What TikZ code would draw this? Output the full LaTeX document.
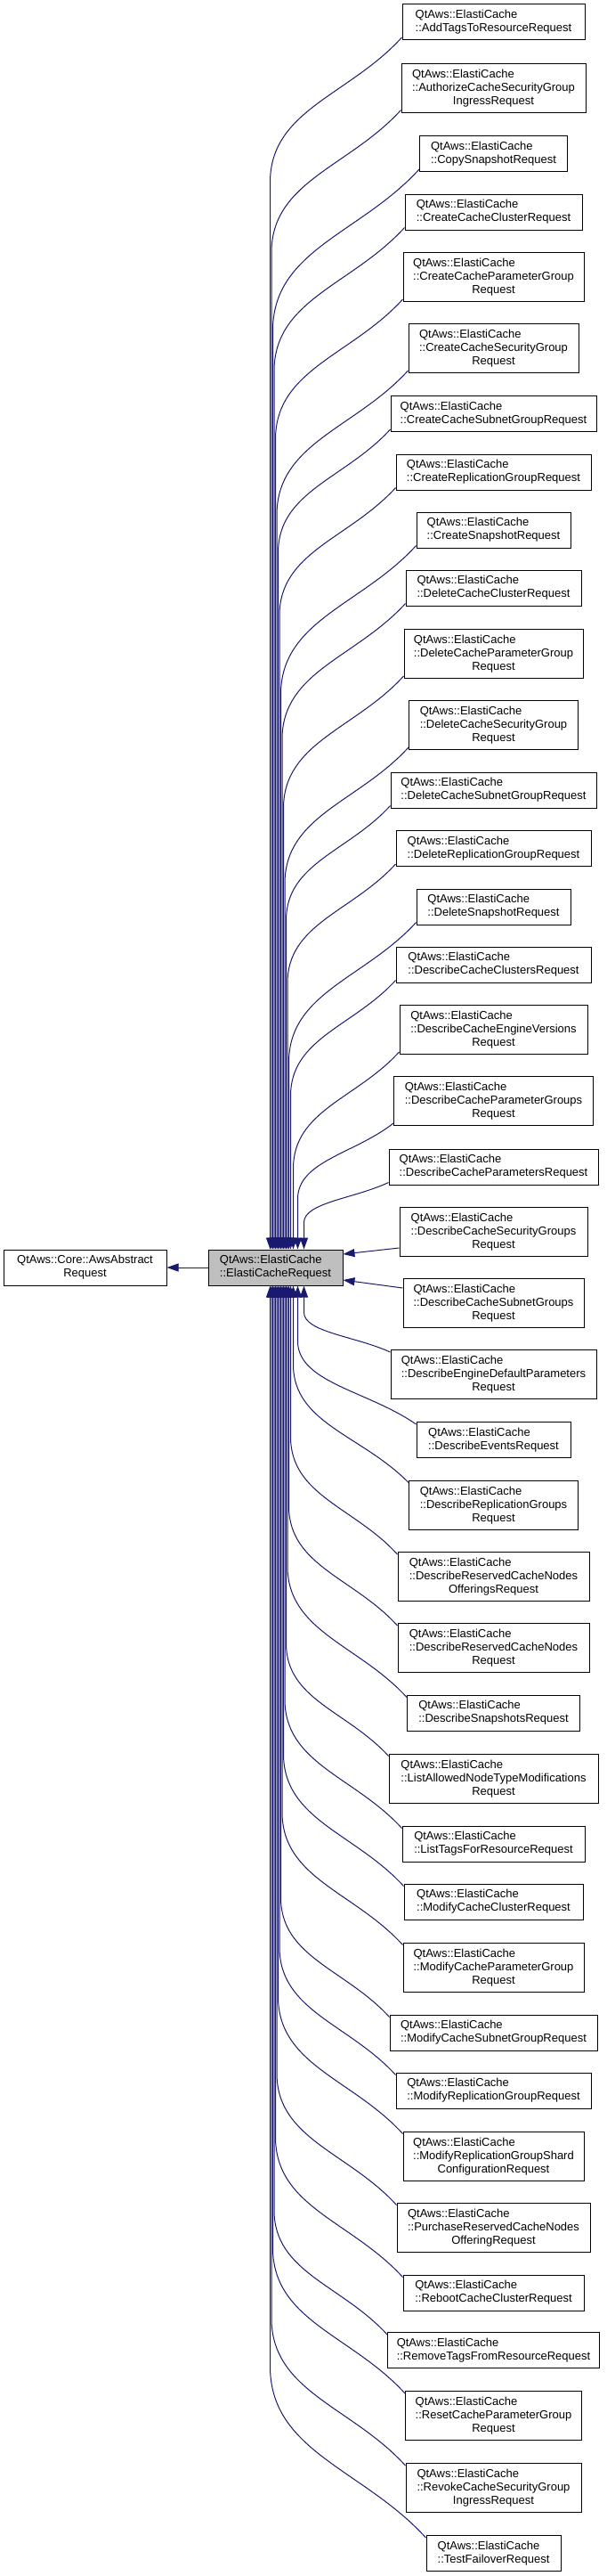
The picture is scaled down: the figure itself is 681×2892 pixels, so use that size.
\documentclass[tikz,border=0pt]{standalone}
\usepackage{fontspec}
\setmainfont{Liberation Sans}
\usetikzlibrary{arrows.meta,calc}
\definecolor{edgeblue}{HTML}{191970}
\definecolor{basegray}{HTML}{BFBFBF}
\newcommand{\twoline}[2]{\begin{tabular}[b]{@{}l@{}}#1\\#2\end{tabular}}
\newcommand{\ec}[1]{\twoline{QtAws::ElastiCache}{::#1}}
\tikzset{
  cls/.style={draw=black,line width=1pt,fill=white,align=center,
              font=\fontsize{13}{15}\selectfont,inner sep=1pt,
              minimum height=40pt},
  clsx/.style={cls,minimum height=55pt},
  basecls/.style={cls,fill=basegray},
  inh/.style={-{Triangle[length=13pt,width=9pt]},draw=edgeblue,line width=1pt},
}

\begin{document}
\begin{tikzpicture}[x=1pt,y=1pt]
\path[use as bounding box,fill=white] (0,0) rectangle (681,-2892);

%% ---------- base classes ----------
\node[basecls,minimum width=151pt] (base) at (309.5,-1423)
  {\ec{ElastiCacheRequest}};
\node[cls,minimum width=183pt] (aws) at (95.5,-1423)
  {QtAws::Core::AwsAbstract\\Request};
\draw[inh] (base) -- (aws);

%% ---------- derived requests ----------
\node[cls,minimum width=205pt]  (addtags)    at (554.5,-24.5)  {\ec{AddTagsToResourceRequest}};
\node[clsx,minimum width=207pt] (authsec)    at (554.5,-98.5)  {\ec{AuthorizeCacheSecurityGroup}\\IngressRequest};
\node[cls,minimum width=166pt]  (copysnap)   at (554.5,-172.5) {\ec{CopySnapshotRequest}};
\node[cls,minimum width=199pt]  (crcluster)  at (554.5,-238)   {\ec{CreateCacheClusterRequest}};
\node[clsx,minimum width=203pt] (crparam)    at (554.5,-311)   {\ec{CreateCacheParameterGroup}\\Request};
\node[clsx,minimum width=191pt] (crsec)      at (554.5,-391)   {\ec{CreateCacheSecurityGroup}\\Request};
\node[cls,minimum width=231pt]  (crsubnet)   at (554.5,-464.5) {\ec{CreateCacheSubnetGroupRequest}};
\node[cls,minimum width=219pt]  (crrepl)     at (554.5,-530)   {\ec{CreateReplicationGroupRequest}};
\node[cls,minimum width=173pt]  (crsnap)     at (554.5,-595)   {\ec{CreateSnapshotRequest}};
\node[cls,minimum width=197pt]  (delcluster) at (554.5,-660)   {\ec{DeleteCacheClusterRequest}};
\node[clsx,minimum width=201pt] (delparam)   at (554.5,-734)   {\ec{DeleteCacheParameterGroup}\\Request};
\node[clsx,minimum width=190pt] (delsec)     at (554.5,-814)   {\ec{DeleteCacheSecurityGroup}\\Request};
\node[cls,minimum width=231pt]  (delsubnet)  at (554.5,-887)   {\ec{DeleteCacheSubnetGroupRequest}};
\node[cls,minimum width=219pt]  (delrepl)    at (554.5,-952.5) {\ec{DeleteReplicationGroupRequest}};
\node[cls,minimum width=173pt]  (delsnap)    at (554.5,-1018)  {\ec{DeleteSnapshotRequest}};
\node[cls,minimum width=219pt]  (dsclusters) at (554.5,-1083)  {\ec{DescribeCacheClustersRequest}};
\node[clsx,minimum width=211pt] (dsengine)   at (554.5,-1156)  {\ec{DescribeCacheEngineVersions}\\Request};
\node[clsx,minimum width=224pt] (dsparamgrp) at (554.5,-1236)  {\ec{DescribeCacheParameterGroups}\\Request};
\node[cls,minimum width=235pt]  (dsparams)   at (554.5,-1310)  {\ec{DescribeCacheParametersRequest}};
\node[clsx,minimum width=211pt] (dssec)      at (554.5,-1383)  {\ec{DescribeCacheSecurityGroups}\\Request};
\node[clsx,minimum width=203pt] (dssubnet)   at (554.5,-1463)  {\ec{DescribeCacheSubnetGroups}\\Request};
\node[clsx,minimum width=231pt] (dsengdef)   at (554.5,-1543)  {\ec{DescribeEngineDefaultParameters}\\Request};
\node[cls,minimum width=173pt]  (dsevents)   at (554.5,-1616.5){\ec{DescribeEventsRequest}};
\node[clsx,minimum width=190pt] (dsrepl)     at (554.5,-1689.5){\ec{DescribeReplicationGroups}\\Request};
\node[clsx,minimum width=215pt] (dsresoff)   at (554.5,-1770)  {\ec{DescribeReservedCacheNodes}\\OfferingsRequest};
\node[clsx,minimum width=215pt] (dsres)      at (554.5,-1850)  {\ec{DescribeReservedCacheNodes}\\Request};
\node[cls,minimum width=194pt]  (dssnaps)    at (554.5,-1923)  {\ec{DescribeSnapshotsRequest}};
\node[clsx,minimum width=235pt] (listmods)   at (554.5,-1996.5){\ec{ListAllowedNodeTypeModifications}\\Request};
\node[cls,minimum width=205pt]  (listtags)   at (554.5,-2070)  {\ec{ListTagsForResourceRequest}};
\node[cls,minimum width=201pt]  (modcluster) at (554.5,-2135)  {\ec{ModifyCacheClusterRequest}};
\node[clsx,minimum width=203pt] (modparam)   at (554.5,-2208.5){\ec{ModifyCacheParameterGroup}\\Request};
\node[cls,minimum width=233pt]  (modsubnet)  at (554.5,-2282)  {\ec{ModifyCacheSubnetGroupRequest}};
\node[cls,minimum width=219pt]  (modrepl)    at (554.5,-2347)  {\ec{ModifyReplicationGroupRequest}};
\node[clsx,minimum width=203pt] (modshard)   at (554.5,-2420.5){\ec{ModifyReplicationGroupShard}\\ConfigurationRequest};
\node[clsx,minimum width=217pt] (purchase)   at (554.5,-2500.5){\ec{PurchaseReservedCacheNodes}\\OfferingRequest};
\node[cls,minimum width=203pt]  (reboot)     at (554.5,-2574)  {\ec{RebootCacheClusterRequest}};
\node[cls,minimum width=238pt]  (rmtags)     at (554.5,-2638.5){\ec{RemoveTagsFromResourceRequest}};
\node[clsx,minimum width=198pt] (resetparam) at (554.5,-2712)  {\ec{ResetCacheParameterGroup}\\Request};
\node[clsx,minimum width=197pt] (revoke)     at (554.5,-2793)  {\ec{RevokeCacheSecurityGroup}\\IngressRequest};
\node[cls,minimum width=151pt]  (failover)   at (554.5,-2866.5){\ec{TestFailoverRequest}};

%% inheritance edges from above
\foreach \c/\o in {addtags/70,authsec/71.5,copysnap/73,crcluster/74.5,crparam/76,
                   crsec/77.5,crsubnet/79,crrepl/80.5,crsnap/82,delcluster/83.5,
                   delparam/85,delsec/86.5,delsubnet/88,delrepl/89.5,delsnap/91,
                   dsclusters/93,dsengine/96,dsparamgrp/101,dsparams/108}
  \draw[inh] let \p1=($(\c.south west)+(0,3)$), \p2=($(base.north west)+(\o,0)$),
                 \n1={\x1-\x2}, \n2={min(1.1*\n1,0.6*(\y1-\y2))}
             in (\p1) .. controls ({\x1-0.4*\n1},{\y1-0.4*\n2}) and (\x2,{\y1-0.5*\n2})
                .. (\x2,{\y1-\n2}) -- (\p2);

%% inheritance edges beside
\draw[inh] ($(dssec.west)+(0,-18)$) -- ($(base.east)+(0,15)$);
\draw[inh] ($(dssubnet.west)+(0,17)$) -- ($(base.east)+(0,-14)$);

%% inheritance edges from below
\foreach \c/\o in {dsengdef/108,dsevents/101,dsrepl/96,dsresoff/93,dsres/91,
                   dssnaps/89.5,listmods/88,listtags/86.5,modcluster/85,modparam/83.5,
                   modsubnet/82,modrepl/80.5,modshard/79,purchase/77.5,reboot/76,
                   rmtags/74.5,resetparam/73,revoke/71.5,failover/70}
  \draw[inh] let \p1=($(\c.north west)+(0,-3)$), \p2=($(base.south west)+(\o,0)$),
                 \n1={\x1-\x2}, \n2={min(1.1*\n1,0.6*(\y2-\y1))}
             in (\p1) .. controls ({\x1-0.4*\n1},{\y1+0.4*\n2}) and (\x2,{\y1+0.5*\n2})
                .. (\x2,{\y1+\n2}) -- (\p2);
\end{tikzpicture}
\end{document}
